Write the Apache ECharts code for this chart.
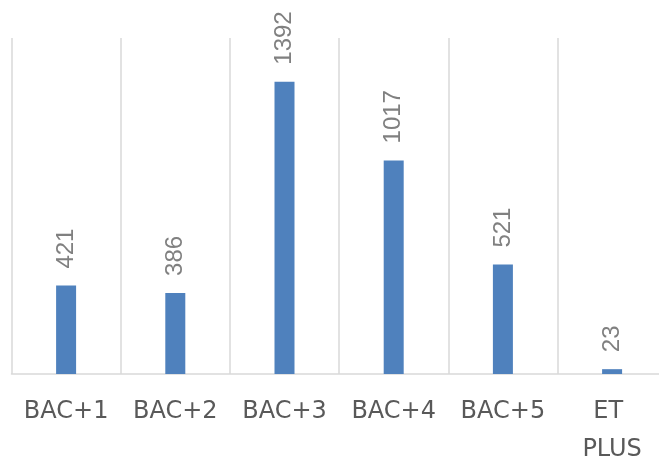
<!DOCTYPE html>
<html>
<head>
<meta charset="utf-8">
<script src="https://cdn.jsdelivr.net/npm/echarts@6/dist/echarts.min.js"></script>
<style>
html,body{margin:0;padding:0;background:#fff;}
#chart{width:659px;height:458px;}
</style>
</head>
<body>
<div id="chart"></div>
<script>
const categories = ["BAC+1", "BAC+2", "BAC+3", "BAC+4", "BAC+5", "ET PLUS"];
const values = [421, 386, 1392, 1017, 521, 23];
const yMin = 0;
const yMax = 1600;

const chart = echarts.init(document.getElementById('chart'), null, {renderer: 'canvas'});
chart.setOption({
  animation: false,
  backgroundColor: '#ffffff',
  grid: {left: 11.5, top: 38, width: 655.2, height: 336, containLabel: false, outerBoundsMode: 'none'},
  xAxis: {
    type: 'category',
    data: categories,
    boundaryGap: true,
    axisLine: {show: true, lineStyle: {color: '#d9d9d9', width: 1.5}},
    axisTick: {show: false},
    splitLine: {show: true, lineStyle: {color: '#d9d9d9', width: 1.5}},
    axisLabel: {
      interval: 0,
      color: '#595959',
      fontFamily: 'DejaVu Sans',
      fontSize: 24,
      lineHeight: 38,
      width: 92,
      overflow: 'break',
      margin: 19,
      hideOverlap: false
    }
  },
  yAxis: {
    type: 'value',
    min: yMin,
    max: yMax,
    show: false,
    splitLine: {show: false}
  },
  series: [{
    type: 'bar',
    data: values,
    barWidth: 20,
    itemStyle: {color: '#4f81bd'},
    label: {
      show: true,
      position: 'top',
      rotate: 90,
      align: 'left',
      verticalAlign: 'middle',
      distance: 17,
      color: '#808080',
      fontFamily: 'Liberation Sans',
      fontSize: 24
    }
  }]
});
</script>
</body>
</html>
